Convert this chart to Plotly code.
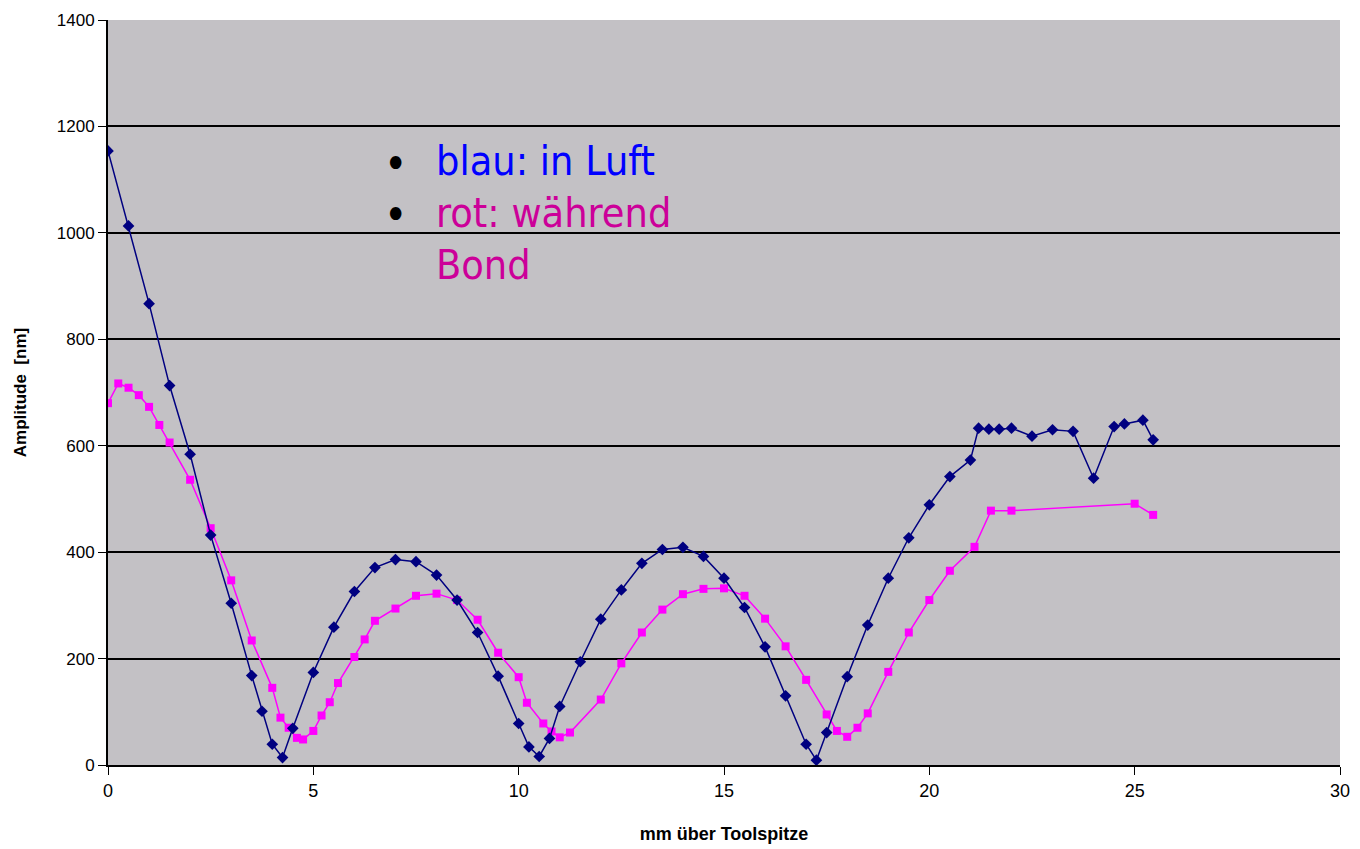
import plotly.graph_objects as go

blue_x = [0, 0.5, 1.0, 1.5, 2.0, 2.5, 3.0, 3.5, 3.75, 4.0, 4.25, 4.5, 5.0, 5.5, 6.0, 6.5, 7.0, 7.5,
          8.0, 8.5, 9.0, 9.5, 10.0, 10.25, 10.5, 10.75, 11.0, 11.5, 12.0, 12.5, 13.0, 13.5, 14.0,
          14.5, 15.0, 15.5, 16.0, 16.5, 17.0, 17.25, 17.5, 18.0, 18.5, 19.0, 19.5, 20.0, 20.5,
          21.0, 21.2, 21.45, 21.7, 22.0, 22.5, 23.0, 23.5, 24.0, 24.5, 24.75, 25.2, 25.45]
blue_y = [1154, 1013, 867, 713, 584, 432, 304, 168, 101, 39, 14, 69, 174, 259, 326, 371, 386, 382,
          357, 310, 249, 167, 78, 34, 16, 50, 110, 194, 274, 329, 379, 405, 409,
          392, 351, 296, 222, 130, 39, 9, 61, 166, 263, 351, 427, 489, 542,
          573, 633, 631, 631, 633, 618, 630, 627, 539, 636, 641, 648, 611]

pink_x = [0, 0.25, 0.5, 0.75, 1.0, 1.25, 1.5, 2.0, 2.5, 3.0, 3.5, 4.0, 4.2, 4.4, 4.6, 4.75, 5.0,
          5.2, 5.4, 5.6, 6.0, 6.25, 6.5, 7.0, 7.5, 8.0, 8.5, 9.0, 9.5, 10.0, 10.2, 10.6, 10.8,
          11.0, 11.25, 12.0, 12.5, 13.0, 13.5, 14.0, 14.5, 15.0, 15.5, 16.0, 16.5, 17.0, 17.5,
          17.75, 18.0, 18.25, 18.5, 19.0, 19.5, 20.0, 20.5, 21.1, 21.5, 22.0, 25.0, 25.45]
pink_y = [680, 717, 709, 695, 673, 639, 606, 536, 445, 347, 234, 145, 89, 70, 51, 48, 64,
          93, 118, 154, 203, 236, 271, 294, 318, 322, 310, 273, 211, 165, 117, 78, 63,
          52, 61, 123, 191, 249, 292, 321, 331, 332, 318, 275, 223, 160, 95,
          64, 53, 70, 97, 175, 249, 310, 365, 410, 478, 478, 491, 470]

x_ticks = [0, 5, 10, 15, 20, 25, 30]
y_ticks = [0, 200, 400, 600, 800, 1000, 1200, 1400]

fig = go.Figure()
fig.add_trace(go.Scatter(x=pink_x, y=pink_y, mode="lines+markers",
                         line=dict(color="#FF00FF", width=1.5),
                         marker=dict(symbol="square", size=8, color="#FF00FF"),
                         showlegend=False))
fig.add_trace(go.Scatter(x=blue_x, y=blue_y, mode="lines+markers",
                         line=dict(color="#000080", width=1.5),
                         marker=dict(symbol="diamond", size=9, color="#000080"),
                         showlegend=False))

font_ann = "DejaVu Sans Condensed, DejaVu Sans, sans-serif"
anns = [
    dict(x=395, y=163, text="•", color="black", anchor="center", size=44),
    dict(x=434, y=161, text="blau: in Luft", color="#0000FF", anchor="left", size=41),
    dict(x=395, y=215, text="•", color="black", anchor="center", size=44),
    dict(x=434, y=213, text="rot: während", color="#CC0099", anchor="left", size=41),
    dict(x=434, y=265, text="Bond", color="#CC0099", anchor="left", size=41),
]

W, H = 1360, 849
L, R, T, B = 108, 20, 20, 84
pw, ph = W - L - R, H - T - B
annotations = []
for a in anns:
    annotations.append(dict(
        x=(a["x"] - L) / pw, y=((H - a["y"]) - B) / ph, xref="paper", yref="paper",
        text=a["text"], showarrow=False, xanchor=a["anchor"], yanchor="middle",
        font=dict(family=font_ann, size=a["size"], color=a["color"])))

fig.update_layout(
    width=W, height=H,
    margin=dict(l=L, r=R, t=T, b=B),
    paper_bgcolor="white",
    plot_bgcolor="#C3C1C5",
    annotations=annotations,
    xaxis=dict(range=[0, 30], tickvals=x_ticks, ticks="outside", ticklen=8,
               tickcolor="black", showgrid=False, zeroline=False, automargin=False,
               showline=True, linecolor="black", linewidth=2,
               tickfont=dict(family="Liberation Sans Narrow, Arial Narrow, Liberation Sans, Arial", size=18, color="black"),
               title=dict(text="<b>mm über Toolspitze</b>",
                          font=dict(family="Liberation Sans Narrow, Arial Narrow, Liberation Sans, Arial", size=18, color="black"),
                          standoff=28)),
    yaxis=dict(range=[0, 1400], tickvals=y_ticks, ticks="outside", ticklen=8,
               tickcolor="black", showgrid=True, gridcolor="black", gridwidth=2,
               zeroline=False, showline=True, linecolor="black", linewidth=2, automargin=False,
               tickfont=dict(family="Liberation Sans, Arial", size=17, color="black"),
               title=dict(text="<b>Amplitude  [nm]</b>",
                          font=dict(family="Liberation Sans Narrow, Arial Narrow, Liberation Sans, Arial", size=17, color="black"),
                          standoff=26)),
)

fig.write_html("out.html")
